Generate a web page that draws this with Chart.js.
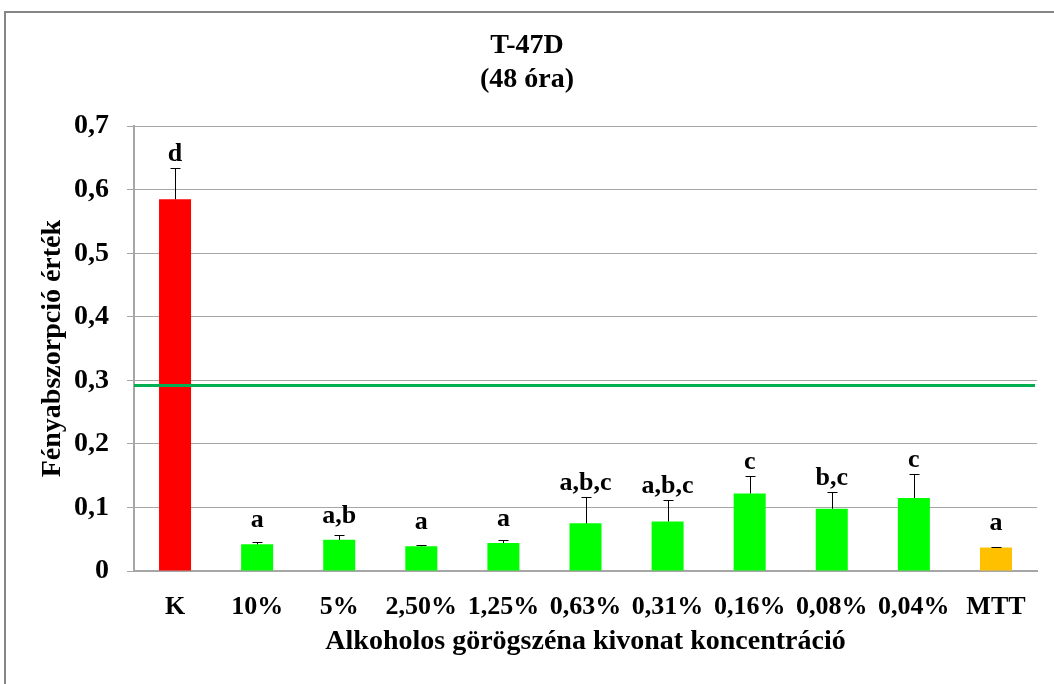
<!DOCTYPE html>
<html>
<head>
<meta charset="utf-8">
<script src="https://cdn.jsdelivr.net/npm/chart.js@4/dist/chart.umd.min.js"></script>
<style>
  html, body { margin: 0; padding: 0; background: #fff; }
  #wrap { width: 1054px; height: 684px; position: relative; }
</style>
</head>
<body>
<div id="wrap"><canvas id="c" width="1054" height="684"></canvas></div>
<script>
// Concentrations of the alcoholic fenugreek extract (plus control and MTT)
const categories = ['K', '10%', '5%', '2,50%', '1,25%', '0,63%', '0,31%', '0,16%', '0,08%', '0,04%', 'MTT'];
// Mean absorbance values
const absorbance = [0.585, 0.042, 0.049, 0.039, 0.044, 0.075, 0.078, 0.122, 0.098, 0.115, 0.037];
// Standard deviation (upper error bar)
const deviation = [0.049, 0.003, 0.007, 0.002, 0.004, 0.041, 0.034, 0.027, 0.027, 0.037, 0.001];
// Significance group letters
const groupLetters = ['d', 'a', 'a,b', 'a', 'a', 'a,b,c', 'a,b,c', 'c', 'b,c', 'c', 'a'];
// 50 % of the control absorbance
const halfControl = 0.292;
const yTicks = [0, 0.1, 0.2, 0.3, 0.4, 0.5, 0.6, 0.7];

const barColors = categories.map((c, i) => i === 0 ? '#FF0000' : (c === 'MTT' ? '#FFC000' : '#00FF00'));
const FONT = "'Liberation Serif', 'Times New Roman', serif";

const overlay = {
  id: 'overlay',
  beforeDraw(chart) {
    const ctx = chart.ctx;
    ctx.save();
    ctx.strokeStyle = '#868686';
    ctx.lineWidth = 2;
    ctx.beginPath();
    ctx.moveTo(5, chart.height);
    ctx.lineTo(5, 12);
    ctx.lineTo(chart.width, 12);
    ctx.stroke();
    ctx.restore();
  },
  afterDatasetsDraw(chart) {
    const ctx = chart.ctx;
    const y = chart.scales.y;
    const meta = chart.getDatasetMeta(0);
    ctx.save();
    // error bars
    ctx.strokeStyle = '#000';
    ctx.lineWidth = 1;
    meta.data.forEach((bar, i) => {
      const top = y.getPixelForValue(absorbance[i]);
      const errTop = Math.round(y.getPixelForValue(absorbance[i] + deviation[i])) + 0.5;
      const x = Math.round(bar.x) + 0.5;
      ctx.beginPath();
      ctx.moveTo(x, top);
      ctx.lineTo(x, errTop);
      ctx.moveTo(x - 5, errTop);
      ctx.lineTo(x + 5, errTop);
      ctx.stroke();
    });
    // half-of-control reference line
    const ly = y.getPixelForValue(halfControl);
    ctx.strokeStyle = '#00B050';
    ctx.lineWidth = 3;
    ctx.beginPath();
    ctx.moveTo(chart.chartArea.left, ly);
    ctx.lineTo(chart.chartArea.right - 2, ly);
    ctx.stroke();
    // group letters
    ctx.fillStyle = '#000';
    ctx.font = 'bold 26px ' + FONT;
    ctx.textAlign = 'center';
    ctx.textBaseline = 'alphabetic';
    meta.data.forEach((bar, i) => {
      const top = y.getPixelForValue(absorbance[i]);
      const errTop = y.getPixelForValue(absorbance[i] + deviation[i]);
      const ty = Math.min(top - 17, errTop - 7);
      ctx.fillText(groupLetters[i], bar.x, ty);
    });
    ctx.restore();
  }
};

new Chart(document.getElementById('c'), {
  type: 'bar',
  data: {
    labels: categories,
    datasets: [{
      data: absorbance,
      backgroundColor: barColors,
      borderWidth: 0,
      barPercentage: 0.39,
      categoryPercentage: 1
    }]
  },
  options: {
    responsive: false,
    animation: false,
    devicePixelRatio: 1,
    layout: { padding: { left: 17, right: 17, top: 0, bottom: 0 } },
    plugins: {
      legend: { display: false },
      tooltip: { enabled: false },
      title: {
        display: true,
        text: ['T-47D', '(48 óra)'],
        color: '#000',
        font: { family: FONT, size: 28, weight: 'bold', lineHeight: 1.2 },
        padding: { top: 29, bottom: 30 }
      }
    },
    scales: {
      x: {
        grid: { display: false },
        border: { display: true, color: '#a6a6a6', width: 2 },
        ticks: {
          color: '#000',
          font: { family: FONT, size: 26, weight: 'bold' },
          padding: 13,
          maxRotation: 0,
          autoSkip: false
        },
        title: {
          display: true,
          text: 'Alkoholos görögszéna kivonat koncentráció',
          color: '#000',
          font: { family: FONT, size: 28, weight: 'bold' },
          padding: { top: 0, bottom: 25 }
        },
        afterFit(scale) { scale.height = 113; }
      },
      y: {
        min: 0,
        max: 0.7,
        afterBuildTicks(scale) { scale.ticks = yTicks.map(v => ({ value: v })); },
        grid: { color: '#a6a6a6', lineWidth: 1, tickLength: 7, drawTicks: true },
        border: { display: true, color: '#a6a6a6', width: 2 },
        ticks: {
          color: '#000',
          font: { family: FONT, size: 28, weight: 'bold' },
          padding: 18,
          callback: v => String(Math.round(v * 10) / 10).replace('.', ',')
        },
        title: {
          display: true,
          text: 'Fényabszorpció érték',
          color: '#000',
          font: { family: FONT, size: 28, weight: 'bold' },
          padding: { top: 19, bottom: 0 }
        },
        afterFit(scale) { scale.width = 117; }
      }
    }
  },
  plugins: [overlay]
});
</script>
</body>
</html>
